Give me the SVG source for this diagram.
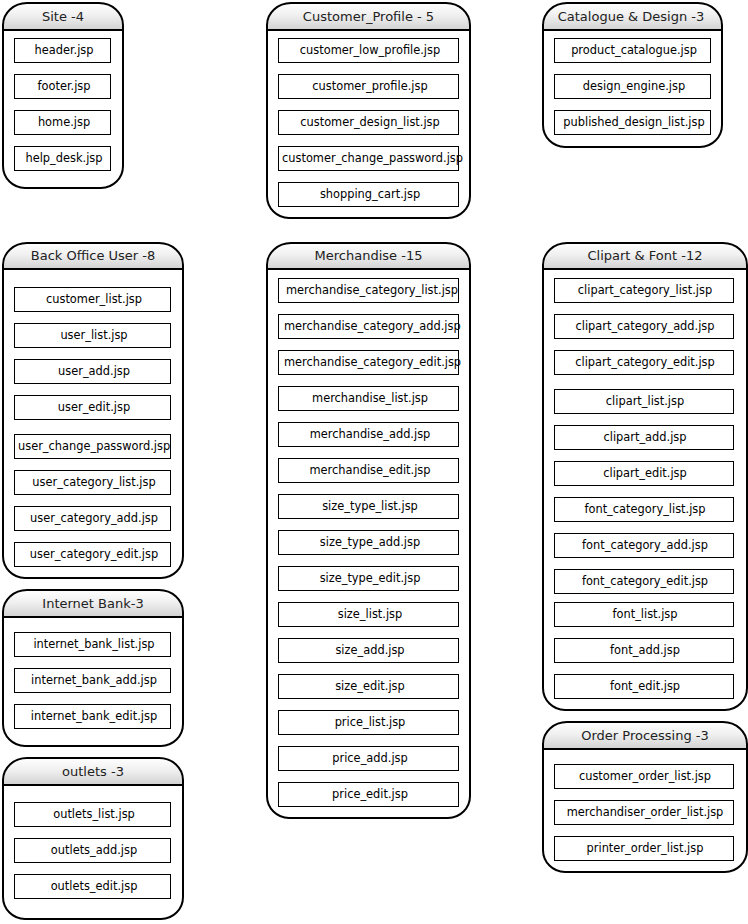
<svg xmlns="http://www.w3.org/2000/svg" width="748" height="924" viewBox="0 0 748 924">
<defs>
<linearGradient id="hdr" x1="0" y1="0" x2="0" y2="1">
<stop offset="0" stop-color="#ffffff"/>
<stop offset="0.45" stop-color="#f0f0f0"/>
<stop offset="1" stop-color="#d2d2d2"/>
</linearGradient>
</defs>
<style>
.body{fill:#ffffff;stroke:none}
.head{fill:url(#hdr);stroke:none}
.outline{fill:none;stroke:#000;stroke-width:2}
.sep{stroke:#000;stroke-width:2}
.item{fill:#ffffff;stroke:#000;stroke-width:1}
.ht{font-family:"DejaVu Sans",Verdana,sans-serif;font-size:13px;fill:#222;text-anchor:middle}
.it{font-family:"DejaVu Sans",Verdana,sans-serif;font-size:11.4px;fill:#000;text-anchor:middle}
.il{font-family:"DejaVu Sans",Verdana,sans-serif;font-size:11.4px;fill:#000;text-anchor:start}
</style>
<rect width="748" height="924" fill="#ffffff"/>
<g id="connectors"/>

<g id="site">
<path class="body" d="M3,30 L3,25 A24,22 0 0 1 27,3 L99,3 A24,22 0 0 1 123,25 L123,166 A22,22 0 0 1 101,188 L25,188 A22,22 0 0 1 3,166 Z"/>
<path class="head" d="M3,30 L3,25 A24,22 0 0 1 27,3 L99,3 A24,22 0 0 1 123,25 L123,30 Z"/>
<path class="outline" d="M3,30 L3,25 A24,22 0 0 1 27,3 L99,3 A24,22 0 0 1 123,25 L123,166 A22,22 0 0 1 101,188 L25,188 A22,22 0 0 1 3,166 Z"/>
<line class="sep" x1="3" y1="30" x2="123" y2="30"/>
<text class="ht" x="63" y="20.5">Site -4</text>
<rect class="item" x="14.5" y="38.5" width="96" height="24"/><text class="it" x="64" y="54">header.jsp</text>
<rect class="item" x="14.5" y="74.5" width="96" height="24"/><text class="it" x="64" y="90">footer.jsp</text>
<rect class="item" x="14.5" y="110.5" width="96" height="24"/><text class="it" x="64" y="126">home.jsp</text>
<rect class="item" x="14.5" y="146.5" width="96" height="24"/><text class="it" x="64" y="162">help_desk.jsp</text>
</g>

<g id="customer_profile">
<path class="body" d="M267,30 L267,25 A24,22 0 0 1 291,3 L446,3 A24,22 0 0 1 470,25 L470,196 A22,22 0 0 1 448,218 L289,218 A22,22 0 0 1 267,196 Z"/>
<path class="head" d="M267,30 L267,25 A24,22 0 0 1 291,3 L446,3 A24,22 0 0 1 470,25 L470,30 Z"/>
<path class="outline" d="M267,30 L267,25 A24,22 0 0 1 291,3 L446,3 A24,22 0 0 1 470,25 L470,196 A22,22 0 0 1 448,218 L289,218 A22,22 0 0 1 267,196 Z"/>
<line class="sep" x1="267" y1="30" x2="470" y2="30"/>
<text class="ht" x="368.5" y="20.5">Customer_Profile - 5</text>
<rect class="item" x="278.5" y="38.5" width="180" height="24"/><text class="it" x="370" y="54">customer_low_profile.jsp</text>
<rect class="item" x="278.5" y="74.5" width="180" height="24"/><text class="it" x="370" y="90">customer_profile.jsp</text>
<rect class="item" x="278.5" y="110.5" width="180" height="24"/><text class="it" x="370" y="126">customer_design_list.jsp</text>
<rect class="item" x="278.5" y="146.5" width="180" height="24"/><text class="il" x="282" y="162">customer_change_password.jsp</text>
<rect class="item" x="278.5" y="182.5" width="180" height="24"/><text class="it" x="370" y="198">shopping_cart.jsp</text>
</g>

<g id="catalogue_design">
<path class="body" d="M543,30 L543,25 A24,22 0 0 1 567,3 L698,3 A24,22 0 0 1 722,25 L722,125 A22,22 0 0 1 700,147 L565,147 A22,22 0 0 1 543,125 Z"/>
<path class="head" d="M543,30 L543,25 A24,22 0 0 1 567,3 L698,3 A24,22 0 0 1 722,25 L722,30 Z"/>
<path class="outline" d="M543,30 L543,25 A24,22 0 0 1 567,3 L698,3 A24,22 0 0 1 722,25 L722,125 A22,22 0 0 1 700,147 L565,147 A22,22 0 0 1 543,125 Z"/>
<line class="sep" x1="543" y1="30" x2="722" y2="30"/>
<text class="ht" x="631" y="20.5">Catalogue &amp; Design -3</text>
<rect class="item" x="554.5" y="38.5" width="156" height="24"/><text class="it" x="634" y="54">product_catalogue.jsp</text>
<rect class="item" x="554.5" y="74.5" width="156" height="24"/><text class="it" x="634" y="90">design_engine.jsp</text>
<rect class="item" x="554.5" y="110.5" width="156" height="24"/><text class="it" x="634" y="126">published_design_list.jsp</text>
</g>

<g id="back_office_user">
<path class="body" d="M3,269 L3,265 A24,22 0 0 1 27,243 L159,243 A24,22 0 0 1 183,265 L183,556 A22,22 0 0 1 161,578 L25,578 A22,22 0 0 1 3,556 Z"/>
<path class="head" d="M3,269 L3,265 A24,22 0 0 1 27,243 L159,243 A24,22 0 0 1 183,265 L183,269 Z"/>
<path class="outline" d="M3,269 L3,265 A24,22 0 0 1 27,243 L159,243 A24,22 0 0 1 183,265 L183,556 A22,22 0 0 1 161,578 L25,578 A22,22 0 0 1 3,556 Z"/>
<line class="sep" x1="3" y1="269" x2="183" y2="269"/>
<text class="ht" x="93" y="259.5">Back Office User -8</text>
<rect class="item" x="14.5" y="287.5" width="156" height="24"/><text class="it" x="94" y="303">customer_list.jsp</text>
<rect class="item" x="14.5" y="323.5" width="156" height="24"/><text class="it" x="94" y="339">user_list.jsp</text>
<rect class="item" x="14.5" y="359.5" width="156" height="24"/><text class="it" x="94" y="375">user_add.jsp</text>
<rect class="item" x="14.5" y="395.5" width="156" height="24"/><text class="it" x="94" y="411">user_edit.jsp</text>
<rect class="item" x="14.5" y="434.5" width="156" height="24"/><text class="il" x="18" y="450">user_change_password.jsp</text>
<rect class="item" x="14.5" y="470.5" width="156" height="24"/><text class="it" x="94" y="486">user_category_list.jsp</text>
<rect class="item" x="14.5" y="506.5" width="156" height="24"/><text class="it" x="94" y="522">user_category_add.jsp</text>
<rect class="item" x="14.5" y="542.5" width="156" height="24"/><text class="it" x="94" y="558">user_category_edit.jsp</text>
</g>

<g id="merchandise">
<path class="body" d="M267,269 L267,265 A24,22 0 0 1 291,243 L446,243 A24,22 0 0 1 470,265 L470,796 A22,22 0 0 1 448,818 L289,818 A22,22 0 0 1 267,796 Z"/>
<path class="head" d="M267,269 L267,265 A24,22 0 0 1 291,243 L446,243 A24,22 0 0 1 470,265 L470,269 Z"/>
<path class="outline" d="M267,269 L267,265 A24,22 0 0 1 291,243 L446,243 A24,22 0 0 1 470,265 L470,796 A22,22 0 0 1 448,818 L289,818 A22,22 0 0 1 267,796 Z"/>
<line class="sep" x1="267" y1="269" x2="470" y2="269"/>
<text class="ht" x="368.5" y="259.5">Merchandise -15</text>
<rect class="item" x="278.5" y="278.5" width="180" height="24"/><text class="il" x="286" y="294">merchandise_category_list.jsp</text>
<rect class="item" x="278.5" y="314.5" width="180" height="24"/><text class="il" x="284" y="330">merchandise_category_add.jsp</text>
<rect class="item" x="278.5" y="350.5" width="180" height="24"/><text class="il" x="284" y="366">merchandise_category_edit.jsp</text>
<rect class="item" x="278.5" y="386.5" width="180" height="24"/><text class="it" x="370" y="402">merchandise_list.jsp</text>
<rect class="item" x="278.5" y="422.5" width="180" height="24"/><text class="it" x="370" y="438">merchandise_add.jsp</text>
<rect class="item" x="278.5" y="458.5" width="180" height="24"/><text class="it" x="370" y="474">merchandise_edit.jsp</text>
<rect class="item" x="278.5" y="494.5" width="180" height="24"/><text class="it" x="370" y="510">size_type_list.jsp</text>
<rect class="item" x="278.5" y="530.5" width="180" height="24"/><text class="it" x="370" y="546">size_type_add.jsp</text>
<rect class="item" x="278.5" y="566.5" width="180" height="24"/><text class="it" x="370" y="582">size_type_edit.jsp</text>
<rect class="item" x="278.5" y="602.5" width="180" height="24"/><text class="it" x="370" y="618">size_list.jsp</text>
<rect class="item" x="278.5" y="638.5" width="180" height="24"/><text class="it" x="370" y="654">size_add.jsp</text>
<rect class="item" x="278.5" y="674.5" width="180" height="24"/><text class="it" x="370" y="690">size_edit.jsp</text>
<rect class="item" x="278.5" y="710.5" width="180" height="24"/><text class="it" x="370" y="726">price_list.jsp</text>
<rect class="item" x="278.5" y="746.5" width="180" height="24"/><text class="it" x="370" y="762">price_add.jsp</text>
<rect class="item" x="278.5" y="782.5" width="180" height="24"/><text class="it" x="370" y="798">price_edit.jsp</text>
</g>

<g id="clipart_font">
<path class="body" d="M543,269 L543,265 A24,22 0 0 1 567,243 L723,243 A24,22 0 0 1 747,265 L747,688 A22,22 0 0 1 725,710 L565,710 A22,22 0 0 1 543,688 Z"/>
<path class="head" d="M543,269 L543,265 A24,22 0 0 1 567,243 L723,243 A24,22 0 0 1 747,265 L747,269 Z"/>
<path class="outline" d="M543,269 L543,265 A24,22 0 0 1 567,243 L723,243 A24,22 0 0 1 747,265 L747,688 A22,22 0 0 1 725,710 L565,710 A22,22 0 0 1 543,688 Z"/>
<line class="sep" x1="543" y1="269" x2="747" y2="269"/>
<text class="ht" x="645" y="259.5">Clipart &amp; Font -12</text>
<rect class="item" x="554.5" y="278.5" width="179" height="24"/><text class="it" x="645" y="294">clipart_category_list.jsp</text>
<rect class="item" x="554.5" y="314.5" width="179" height="24"/><text class="it" x="645" y="330">clipart_category_add.jsp</text>
<rect class="item" x="554.5" y="350.5" width="179" height="24"/><text class="it" x="645" y="366">clipart_category_edit.jsp</text>
<rect class="item" x="554.5" y="389.5" width="179" height="24"/><text class="it" x="645" y="405">clipart_list.jsp</text>
<rect class="item" x="554.5" y="425.5" width="179" height="24"/><text class="it" x="645" y="441">clipart_add.jsp</text>
<rect class="item" x="554.5" y="461.5" width="179" height="24"/><text class="it" x="645" y="477">clipart_edit.jsp</text>
<rect class="item" x="554.5" y="497.5" width="179" height="24"/><text class="it" x="645" y="513">font_category_list.jsp</text>
<rect class="item" x="554.5" y="533.5" width="179" height="24"/><text class="it" x="645" y="549">font_category_add.jsp</text>
<rect class="item" x="554.5" y="569.5" width="179" height="24"/><text class="it" x="645" y="585">font_category_edit.jsp</text>
<rect class="item" x="554.5" y="602.5" width="179" height="24"/><text class="it" x="645" y="618">font_list.jsp</text>
<rect class="item" x="554.5" y="638.5" width="179" height="24"/><text class="it" x="645" y="654">font_add.jsp</text>
<rect class="item" x="554.5" y="674.5" width="179" height="24"/><text class="it" x="645" y="690">font_edit.jsp</text>
</g>

<g id="internet_bank">
<path class="body" d="M3,617 L3,612 A24,22 0 0 1 27,590 L159,590 A24,22 0 0 1 183,612 L183,724 A22,22 0 0 1 161,746 L25,746 A22,22 0 0 1 3,724 Z"/>
<path class="head" d="M3,617 L3,612 A24,22 0 0 1 27,590 L159,590 A24,22 0 0 1 183,612 L183,617 Z"/>
<path class="outline" d="M3,617 L3,612 A24,22 0 0 1 27,590 L159,590 A24,22 0 0 1 183,612 L183,724 A22,22 0 0 1 161,746 L25,746 A22,22 0 0 1 3,724 Z"/>
<line class="sep" x1="3" y1="617" x2="183" y2="617"/>
<text class="ht" x="93" y="607.5">Internet Bank-3</text>
<rect class="item" x="14.5" y="632.5" width="156" height="24"/><text class="it" x="94" y="648">internet_bank_list.jsp</text>
<rect class="item" x="14.5" y="668.5" width="156" height="24"/><text class="it" x="94" y="684">internet_bank_add.jsp</text>
<rect class="item" x="14.5" y="704.5" width="156" height="24"/><text class="it" x="94" y="720">internet_bank_edit.jsp</text>
</g>

<g id="outlets">
<path class="body" d="M3,785 L3,780 A24,22 0 0 1 27,758 L159,758 A24,22 0 0 1 183,780 L183,897 A22,22 0 0 1 161,919 L25,919 A22,22 0 0 1 3,897 Z"/>
<path class="head" d="M3,785 L3,780 A24,22 0 0 1 27,758 L159,758 A24,22 0 0 1 183,780 L183,785 Z"/>
<path class="outline" d="M3,785 L3,780 A24,22 0 0 1 27,758 L159,758 A24,22 0 0 1 183,780 L183,897 A22,22 0 0 1 161,919 L25,919 A22,22 0 0 1 3,897 Z"/>
<line class="sep" x1="3" y1="785" x2="183" y2="785"/>
<text class="ht" x="93" y="775.5">outlets -3</text>
<rect class="item" x="14.5" y="802.5" width="156" height="24"/><text class="it" x="94" y="818">outlets_list.jsp</text>
<rect class="item" x="14.5" y="838.5" width="156" height="24"/><text class="it" x="94" y="854">outlets_add.jsp</text>
<rect class="item" x="14.5" y="874.5" width="156" height="24"/><text class="it" x="94" y="890">outlets_edit.jsp</text>
</g>

<g id="order_processing">
<path class="body" d="M543,749 L543,744 A24,22 0 0 1 567,722 L723,722 A24,22 0 0 1 747,744 L747,850 A22,22 0 0 1 725,872 L565,872 A22,22 0 0 1 543,850 Z"/>
<path class="head" d="M543,749 L543,744 A24,22 0 0 1 567,722 L723,722 A24,22 0 0 1 747,744 L747,749 Z"/>
<path class="outline" d="M543,749 L543,744 A24,22 0 0 1 567,722 L723,722 A24,22 0 0 1 747,744 L747,850 A22,22 0 0 1 725,872 L565,872 A22,22 0 0 1 543,850 Z"/>
<line class="sep" x1="543" y1="749" x2="747" y2="749"/>
<text class="ht" x="645" y="739.5">Order Processing -3</text>
<rect class="item" x="554.5" y="764.5" width="179" height="24"/><text class="it" x="645" y="780">customer_order_list.jsp</text>
<rect class="item" x="554.5" y="800.5" width="179" height="24"/><text class="it" x="645" y="816">merchandiser_order_list.jsp</text>
<rect class="item" x="554.5" y="836.5" width="179" height="24"/><text class="it" x="645" y="852">printer_order_list.jsp</text>
</g>
</svg>
